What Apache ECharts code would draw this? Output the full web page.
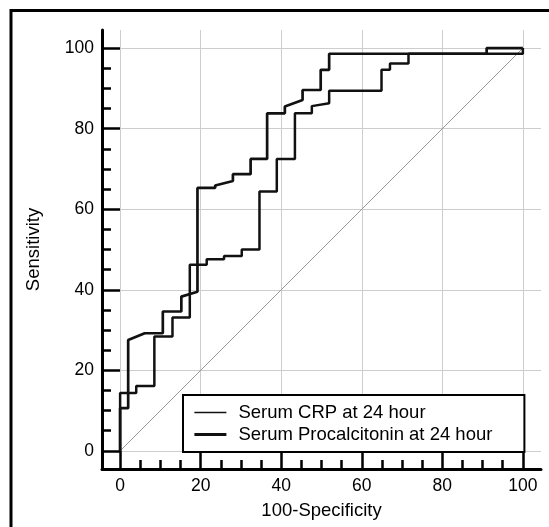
<!DOCTYPE html>
<html>
<head>
<meta charset="utf-8">
<script src="https://cdn.jsdelivr.net/npm/echarts@6/dist/echarts.min.js"></script>
<style>
  html, body { margin: 0; padding: 0; background: #fff; }
  #root { width: 549px; height: 527px; }
</style>
</head>
<body>
<div id="root"></div>
<script>
// ROC curve points (100-Specificity, Sensitivity)
const crpFpr  = [0, 0, 4.0, 4.0, 8.5, 8.5, 13.0, 13.0, 17.3, 17.3, 21.5, 21.5, 25.8, 25.8, 30.2, 30.2, 34.6, 34.6, 38.9, 38.9, 43.4, 43.4, 47.6, 47.6, 51.9, 51.9, 64.9, 64.9, 67.0, 67.0, 71.6, 71.6, 100, 100];
const crpSens = [0, 14.4, 14.4, 16.1, 16.1, 28.4, 28.4, 33.1, 33.1, 46.2, 46.2, 47.6, 47.6, 48.4, 48.4, 50.0, 50.0, 64.4, 64.4, 72.5, 72.5, 83.8, 83.8, 85.6, 86.3, 89.4, 89.4, 94.6, 94.6, 96.2, 96.2, 98.6, 98.6, 100];

const pctFpr  = [0, 0, 2.0, 2.0, 6.1, 10.6, 10.6, 15.2, 15.2, 19.2, 19.2, 23.6, 23.6, 28.0, 28.0, 32.4, 32.4, 36.5, 36.5, 40.9, 40.9, 45.3, 45.3, 49.8, 49.8, 51.9, 51.9, 91.0, 91.0, 100];
const pctSens = [0, 10.6, 10.6, 27.5, 29.2, 29.2, 34.6, 34.6, 38.3, 39.5, 65.3, 65.3, 65.9, 67.0, 68.7, 68.7, 72.5, 72.5, 83.8, 83.8, 85.5, 87.1, 89.6, 89.6, 94.6, 94.6, 98.6, 98.6, 100, 100];

const chanceFpr  = [0, 100];
const chanceSens = [0, 100];

const seriesNames = ["Serum CRP at 24 hour", "Serum Procalcitonin at 24 hour"];
const majorTicks = [0, 20, 40, 60, 80, 100];
const minorTicks = [];
for (let i = 0; i < majorTicks.length - 1; i++) {
  for (let k = 1; k < 4; k++) {
    minorTicks.push(majorTicks[i] + (majorTicks[i + 1] - majorTicks[i]) * k / 4);
  }
}

const zip = (xs, ys) => xs.map((x, i) => [x, ys[i]]);

const font = "'Liberation Sans', Arial, sans-serif";
const axisMin = -4.5, axisMax = 104.5;

function mainAxis(name, pos, gap) {
  return {
    type: "value", min: axisMin, max: axisMax, position: pos,
    name: name, nameLocation: "middle", nameGap: gap,
    nameTextStyle: { fontFamily: font, fontSize: 18.5, color: "#000" },
    axisLine: { onZero: false, lineStyle: { color: "#000", width: 3 } },
    axisTick: { customValues: majorTicks, inside: true, length: 18, lineStyle: { color: "#000", width: 2.5 } },
    axisLabel: { customValues: majorTicks, fontFamily: font, fontSize: 17.5, color: "#000", margin: 8 },
    splitLine: { show: true, lineStyle: { color: "#cdcdcd", width: 1 } }
  };
}
function minorAxis(pos) {
  return {
    type: "value", min: axisMin, max: axisMax, position: pos, offset: 0,
    axisLine: { show: false, onZero: false },
    axisTick: { customValues: minorTicks, inside: true, length: 9, lineStyle: { color: "#000", width: 2.5 } },
    axisLabel: { show: false },
    splitLine: { show: false }
  };
}

const chart = echarts.init(document.getElementById("root"));
chart.setOption({
  animation: false,
  backgroundColor: "#fff",
  grid: { left: 102, right: 8, top: 30, bottom: 58, containLabel: false },
  xAxis: [mainAxis("100-Specificity", "bottom", 32), minorAxis("bottom")],
  yAxis: [mainAxis("Sensitivity", "left", 59), minorAxis("left")],
  legend: {
    orient: "vertical", left: 183, top: 395,
    selectedMode: false,
    backgroundColor: "#fff",
    borderColor: "#000", borderWidth: 2, borderRadius: 0,
    padding: [8, 32, 8, 10],
    itemWidth: 32, itemHeight: 14, itemGap: 3,
    itemStyle: { opacity: 0 },
    textStyle: { fontFamily: font, fontSize: 18.5, color: "#000", padding: [0, 0, 0, 7] },
    data: [
      { name: seriesNames[0], lineStyle: { width: 1.5 } },
      { name: seriesNames[1], lineStyle: { width: 2.8 } }
    ]
  },
  graphic: [{
    type: "rect", silent: true, z: 100,
    shape: { x: 11, y: 10.5, width: 700, height: 700 },
    style: { fill: null, stroke: "#000", lineWidth: 3 }
  }],
  series: [
    {
      name: "chance", type: "line", symbol: "none", silent: true,
      data: zip(chanceFpr, chanceSens),
      lineStyle: { color: "#999", width: 1 }, z: 1
    },
    {
      name: seriesNames[0], type: "line", symbol: "none",
      data: zip(crpFpr, crpSens),
      lineStyle: { color: "#111", width: 2.5 }, itemStyle: { color: "#111" }
    },
    {
      name: seriesNames[1], type: "line", symbol: "none",
      data: zip(pctFpr, pctSens),
      lineStyle: { color: "#111", width: 2.7 }, itemStyle: { color: "#111" }
    }
  ]
});
</script>
</body>
</html>
